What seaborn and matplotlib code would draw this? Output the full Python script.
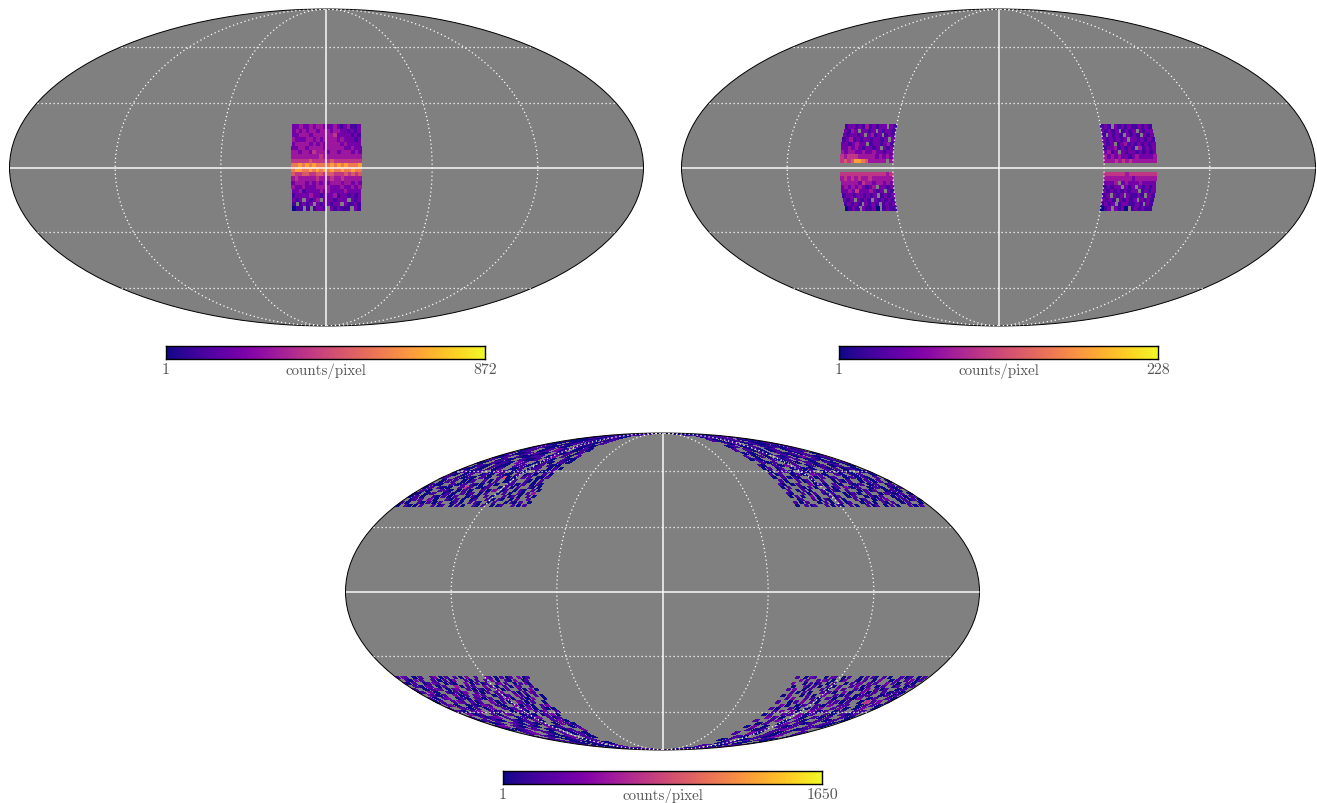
import numpy as np
import matplotlib
matplotlib.use("Agg")
import matplotlib.pyplot as plt
import seaborn as sns

# Colour levels, 0 (lowest) to 9 (highest); '.' = no data (grey).
# Rows run from north to south, columns from left to right on the page.
CENTRAL_MAX = 872
CENTRAL_LON = (-20, 20)
CENTRAL_LAT = (20, -20)
CENTRAL = [
    "22322323322232123112",
    "23232332333233221212",
    "22333233333342222121",
    "32223323233332322212",
    "23333232323333232222",
    "22332333323333322322",
    "33233243332332333232",
    "33333333433333333333",
    "44444544444544444444",
    "66767676666767676667",
    "67766767676766766766",
    "54455445545544454545",
    "34333334333433433333",
    "23332323232333233232",
    "32232223333222322323",
    "22312222323222232222",
    "12222322122231221212",
    "212.2123.2221222.212",
    "1.1212.2122122.21121",
    "011.1.1221.212111.21",
]

WEST_MAX = 228
WEST_LON = (-90, -60)
WEST_LAT = (20, -20)
WEST = [
    "122121312122.21",
    "2132.2212.21221",
    "212212.2312.121",
    "1231212212212.2",
    "2212322.1221231",
    "22323212212.212",
    "323322322322122",
    "434443333323232",
    "4545776533333.3",
    "...............",
    "...............",
    "444444444444434",
    "343434334333333",
    "333332433233232",
    "2323232123.2212",
    "223242223212.21",
    "1221221212.1212",
    "212.2121.212121",
    "12121.2121.1212",
    "0121.21120.1211",
]

EAST_MAX = 228
EAST_LON = (60, 90)
EAST_LAT = (20, -20)
EAST = [
    "121.21212112121",
    "21212.1212.2122",
    "1.2121.2121.212",
    "2121212.2212121",
    "212.12312121212",
    "122312121.31212",
    "2312.2122121212",
    "323232212322223",
    "333434343333333",
    "...............",
    "...............",
    "444444344444444",
    "333333332333333",
    "2223.2322232222",
    "12122.212.21212",
    "2121212122.1212",
    "12.212.21121.21",
    "2121.21212.2121",
    "1212.1221121.21",
    "012.2120.121211",
]

# Polar caps: one string per row, shorter towards the pole.
CAPS_MAX = 1650
NW_LON = (-180, -90)
NW_LAT = (90, 40)
NW = [
    "0..10.1",
    "10..1.001..10",
    "..10.00..1.0..101",
    "1.00...10.1..01.0..1",
    "01..1.00..10...1.0.10.",
    ".0.11...0.1..2.01..00.1.0",
    "1..0.01..1.00...1.0.1..01.",
    "00.1...10.0.1.1..0.2..1.0..1",
    ".1..01.0...1.00.1..1.0...10.0",
    "10...1.01.0..2.1...00.1.0..11.0",
    "..01.0..1.00...1.1.0..01..10.0..",
    "1.0..10..1.0.1...00.1..0.11...0.1.0",
    "0..1.0.11...0.2.1..0.1.0...1.00.1..",
    ".10..0.1...01.0..1.00..1..01.0..1.0.",
    "01...1.0.10..1.0...1.50.0..1.1..00.1.",
    "..0.1.1..0.01...1.0.1..00.1...10.0.1..",
    "1.00...1.0.1..10.0..1.0...11.0.1..0.10.",
    "0.1..10.0...1.41..0.01...0.1.0.1...10.0.",
    ".1.0...1.10..0.1.0...1.0.2..01..0.10..1.0",
    "10..0.1...01.0..1.01..0.1...0.1.0..10.1.3.",
    "0.1.0...10.1.0.1...0.10..1.0...1.01.0..1.0",
    "..01.1..2.0...10.1.0..01...1.0.10..0.1...1.",
    "1.0...10.1.0.1...01.0..1.10..0.1...0.10.1..0",
    "0..10.0.1...1.01..0.1.0...10.1..0.01...1.0.1.",
]

NE_LON = (90, 180)
NE_LAT = (90, 40)
NE = [
    "1..01.0",
    ".01..0.1...1.",
    "1.0..1.01...0.10.",
    "..10.1...0.1.00..1.0",
    "0.1..00.1...10.1.0..1.",
    "1...1.0.10..0.1...0.1.01.",
    ".0.10..1.0...1.0.1..01...0",
    "1..0.1.0...10.1..0.2..1.0.1.",
    "0.10...1.0.01..1...0.1.0..01.",
    "..1.0.1...0.1.0..1.10...1.0..01",
    "10...1.0.2..1...01.0.1..0.1...0.",
    "0.1..01...0.1.0.10...1.0.1..0.1.0..",
    ".0..1.1.0...10.1...0.1..01.0...10.1",
    "1.01...0.1.0..2.1.0...1.0..10.1...0.",
    "0..1.0.10...1.0.1..01...0.1.0.10..1..",
    ".1.0...1.01.0..1...0.10.1...0.1.0.1..0",
    "10..0.1...2.01.0..1.0...10.1..0.1...01.",
    "0.1...10.1.0...1.01..2.0.1...0.1.0..10.1",
    ".1..0.1.0...1.0.10..1...0.1.01...0.1.0..",
    "10...1.0.1..10.1...0.01.0..1...0.1.10.1..0",
    "0.1.0..2.0...1.01..0.1...0.10.1...0.1.0.1.",
    "..01...1.0.10..1.0...1.01..0.1.2...0.1.01.0",
    "1.0.1...0.1.0..1.01...0.1.0..10.1..0.1...0.",
    "0..1.01...1.0.10..1.0...1.01..0.1.0...1.0.1..",
]

SW_LON = (-180, -90)
SW_LAT = (-40, -90)
SW = [
    "1.21..0.1...12.0.1..1.0.2..1...21.0.1.01..2.01",
    "..10.2.1...1.0.1.02...1.0.1..1.2.0..10.2..01.",
    "20.1...01.21..0.10...2.0.1.01...12.1..0.1.20.",
    "..1.0.21..0.1...3.0.1.1...2.1.0..1.0.21...1.",
    "1...0.1.21..0.12...1.0.10.1..2.0.1...1.0.2.0",
    "01..2.0...10.1.02...1.0.1..1.2...1.0.1.21..",
    "..21.0.1...2.0.1..12.1...0.1.01..2.1.0..1.0",
    "1.0..12...01.0..21.0.1...1.2.0..1.0.2...0",
    "0.1...1.21..1.01...2.0.1.0..21.0.1...0.",
    "..12.0...0.10.2.1..1.0...2.0.1.0..1.2.",
    "1...21.0.1..0.2...1.01..1.2.0..10.0",
    "01.0..1.2...1.01...0.21.0..1.02...1",
    "..2.0.1...1.0..21...0.1.0..01.2.0.",
    "1...1.01.2..1...0.1.0.12...1.01..",
    "0.1..1.0...1.0.1..2.0...1.2.0.",
    "..0.1...21.0..1.0.1...0.2.1.0",
    "1.2...1.0..1.0...2.0.1...0.1",
    "0..0.1..21...0.1..0.1...2",
    "..1.2...1.0..1..0.1.0.",
    "1...1.0..0.2...1.0.",
    "0.1...0.1..0.1...",
    "..1.0..0.1..0.",
    "1..0..1.",
    "0..1",
]

SE_LON = (90, 180)
SE_LAT = (-40, -90)
SE = [
    "1..0.21...0.21..0.1...0.1.10..1.0...1.01..0.1.",
    "..2.1...1.21.0..02...10.1..0.2...0.1..1.2.01.",
    "2...0.1.01..0.1...0.1.12..1.1...2.1.0..1.0..",
    ".0...20.1.0..1.0.1...1.2.0.1..0.1...01..0.1.",
    "1.2..0.1...1.0..2.1...1.0.2..1.01...0.1..",
    "..1.0.1.0...1.1.0..2.0...2.0.1..1.0.1.0.",
    "0.2...0.1.0..2...1.0.1..0.1.1...0.1.01.",
    "..1.2...1.1.0..1.0...1.0.2..0.1...1.0",
    "1...0.1.2..1.0...1.1.0.1...0.4.1.2..1",
    "..2.0..0.1...1.0.2..1.1...0.1.1.0.",
    "1.0...1.0..0.1.2...1.2.0..0.2...0",
    "..1.2..2.0...2.0.1..0.1...1.1..",
    "0.1...1.1..2.0.1...1.0..1.0.1..",
    "..2.1.0...2.0..1.0.1...1.0.",
    "1...1.2.0..1.0...1.0.1..0",
    "..0.1...0.2..1.0.1...1.0.",
    "0.2..0...1.0.1...1.1.0.",
    "..1.0.1...1.2..0.1...",
    "1...2.0..1.0.1...1.",
    "..1.0...1.0.2...0",
    "0.1...0.1..1.0..",
    "..0.1..0...0",
    "1..0..1.",
    "0..1",
]

SOLID_MERIDIANS = [0]
DOTTED_MERIDIANS = [-120, -60, 60, 120]
SOLID_PARALLELS = [0]
DOTTED_PARALLELS = [-60, -30, 30, 60]
BAR_UNIT = "counts/pixel"
BAR_MIN_LABEL = "1"

sns.set_style("white")
plt.rcParams["font.family"] = ["cmr10", "DejaVu Serif"]
plt.rcParams["axes.formatter.use_mathtext"] = True

W, H = 1317, 804
GREY = "#808080"
TEXT = "#555555"
cmap = sns.color_palette("plasma", as_cmap=True).copy()
cmap.set_bad((0, 0, 0, 0))


def to_counts(row, vmax):
    levels = np.array([np.nan if c == "." else float(c) for c in row], dtype=float)
    return 1 + (vmax - 1) * levels / 9.0


def lat_edges_even_on_page(lat, nrow):
    """Latitudes of row edges that are evenly spaced vertically in Mollweide."""
    theta = np.linspace(-np.pi / 2, np.pi / 2, 2001)
    phi = np.arcsin(np.clip((2 * theta + np.sin(2 * theta)) / np.pi, -1, 1))
    s0, s1 = np.interp(np.radians(lat), phi, np.sin(theta))
    return np.interp(np.linspace(s0, s1, nrow + 1), np.sin(theta), phi)


def draw_patch(ax, rows, lon, lat, vmax, even_rows=False):
    nrow = len(rows)
    if even_rows:
        lat_edges = lat_edges_even_on_page(lat, nrow)
    else:
        lat_edges = np.radians(np.linspace(lat[0], lat[1], nrow + 1))
    for i, row in enumerate(rows):
        values = to_counts(row, vmax)[None, :]
        lon_edges = np.radians(np.linspace(lon[0], lon[1], values.shape[1] + 1))
        ax.pcolormesh(lon_edges, lat_edges[i:i + 2], np.ma.masked_invalid(values), cmap=cmap,
                      vmin=1, vmax=vmax, shading="flat", zorder=2, antialiased=False)


def graticule(ax):
    solid = dict(color="white", linewidth=1.1, linestyle="-", alpha=0.95)
    dotted = dict(color="white", linewidth=0.9, linestyle=(0, (1, 2.2)))
    half = np.pi / 2 - 1e-4
    for lon, style in [(m, solid) for m in SOLID_MERIDIANS] + [(m, dotted) for m in DOTTED_MERIDIANS]:
        sns.lineplot(x=[np.radians(lon)] * 2, y=[-half, half], ax=ax, sort=False,
                     estimator=None, legend=False, zorder=3, **style)
    for lat, style in [(p, solid) for p in SOLID_PARALLELS] + [(p, dotted) for p in DOTTED_PARALLELS]:
        sns.lineplot(x=[-np.pi + 1e-4, np.pi - 1e-4], y=[np.radians(lat)] * 2, ax=ax, sort=False,
                     estimator=None, legend=False, zorder=3, **style)


def colorbar(x0, y0, vmax):
    cax = fig.add_axes([x0 / W, 1 - (y0 + 13) / H, 319 / W, 13 / H])
    sns.heatmap(np.linspace(1, vmax, 256)[None, :], cmap=cmap, vmin=1, vmax=vmax, cbar=False,
                ax=cax, xticklabels=False, yticklabels=False)
    for s in cax.spines.values():
        s.set_visible(True)
        s.set_edgecolor("black")
        s.set_linewidth(1.0)
    kw = dict(transform=cax.transAxes, color=TEXT, ha="center", va="center")
    cax.text(0.0, -0.75, BAR_MIN_LABEL, fontsize=11.5, **kw)
    cax.text(1.0, -0.75, str(vmax), fontsize=11.5, **kw)
    cax.text(0.5, -0.88, BAR_UNIT, fontsize=10.8, **kw)


def map_axes(x0, y0):
    ax = fig.add_axes([x0 / W, 1 - (y0 + 317) / H, 635 / W, 317 / H], projection="mollweide")
    ax.set_facecolor(GREY)
    ax.grid(False)
    ax.set_xticklabels([])
    ax.set_yticklabels([])
    ax.tick_params(length=0)
    for s in ax.spines.values():
        s.set_edgecolor("black")
        s.set_linewidth(0.7)
    return ax


fig = plt.figure(figsize=(W / 100, H / 100), dpi=100, facecolor="white")

ax1 = map_axes(9, 10)
draw_patch(ax1, CENTRAL, CENTRAL_LON, CENTRAL_LAT, CENTRAL_MAX)
graticule(ax1)
colorbar(166, 347, CENTRAL_MAX)

ax2 = map_axes(681, 10)
draw_patch(ax2, WEST, WEST_LON, WEST_LAT, WEST_MAX)
draw_patch(ax2, EAST, EAST_LON, EAST_LAT, EAST_MAX)
graticule(ax2)
colorbar(839, 347, WEST_MAX)

ax3 = map_axes(345, 434)
draw_patch(ax3, NW, NW_LON, NW_LAT, CAPS_MAX, even_rows=True)
draw_patch(ax3, NE, NE_LON, NE_LAT, CAPS_MAX, even_rows=True)
draw_patch(ax3, SW, SW_LON, SW_LAT, CAPS_MAX, even_rows=True)
draw_patch(ax3, SE, SE_LON, SE_LAT, CAPS_MAX, even_rows=True)
graticule(ax3)
colorbar(503, 772, CAPS_MAX)

fig.savefig("out.png", dpi=100)
